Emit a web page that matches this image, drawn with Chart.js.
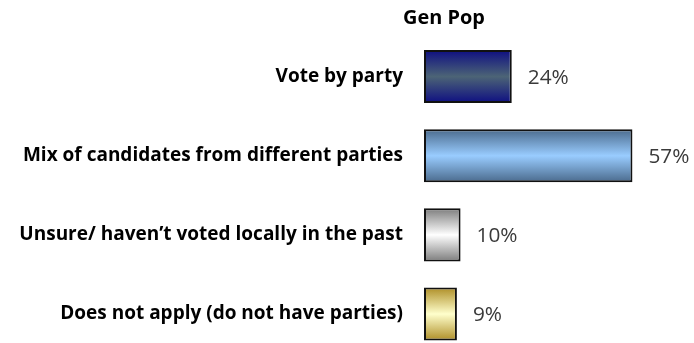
<!DOCTYPE html>
<html><head><meta charset="utf-8">
<script src="https://cdn.jsdelivr.net/npm/chart.js@4/dist/chart.umd.min.js"></script>
<style>html,body{margin:0;padding:0;background:#fff;overflow:hidden}#wrap{width:694px;height:343px;overflow:hidden;position:relative}#c{position:absolute;left:0;top:0}</style>
</head><body><div id="wrap"><canvas id="c" width="694" height="386"></canvas></div>
<script>
const categories = ["Vote by party","Mix of candidates from different parties","Unsure/ haven\u2019t voted locally in the past","Does not apply (do not have parties)"];
const values = [24, 57, 10, 9];
const seriesName = "Gen Pop";
const edgeColors = ["#0e0e82","#4a6a8c","#7c7c7c","#ae8e26"];
const midColors = ["#4c6476","#99ccff","#ffffff","#ffffcc"];

const FONT = "'Open Sans', sans-serif";
const barFrac = 0.67;

const mctx = document.createElement('canvas').getContext('2d');
function fitSize(texts, target, weight) {
  mctx.font = weight + " 100px " + FONT;
  const w = Math.max(...texts.map(s => mctx.measureText(s).width));
  return Math.round(target / w * 1000) / 10;
}
const labelSize = fitSize(categories, 383, 'bold');
const titleSize = fitSize([seriesName], 82, 'bold');
const valueSize = fitSize(['24%'], 41, 'normal');

const gradFill = (ctx) => {
  const chart = ctx.chart;
  const ys = chart.scales.y;
  const i = ctx.dataIndex;
  if (!ys || i === undefined) return midColors[0];
  const c = ys.getPixelForValue(i);
  const band = (ys.bottom - ys.top) / categories.length;
  const h = band * barFrac / 2;
  if (!isFinite(c) || !isFinite(h) || h <= 0) return midColors[i] || midColors[0];
  const g = chart.ctx.createLinearGradient(0, c - h, 0, c + h);
  g.addColorStop(0, edgeColors[i]);
  g.addColorStop(0.5, midColors[i]);
  g.addColorStop(1, edgeColors[i]);
  return g;
};

const extras = {
  id: 'extras',
  afterDatasetsDraw(chart) {
    const {ctx} = chart;
    const meta = chart.getDatasetMeta(0);
    ctx.save();
    ctx.fillStyle = '#3a3a3a';
    ctx.font = valueSize + "px " + FONT;
    ctx.textBaseline = 'middle';
    ctx.textAlign = 'left';
    meta.data.forEach((el, i) => {
      ctx.fillText(values[i] + '%', el.x + 16, el.y + 1);
    });
    ctx.fillStyle = '#000';
    ctx.font = "bold " + titleSize + "px " + FONT;
    ctx.textAlign = 'center';
    ctx.fillText(seriesName, 444, 18);
    ctx.restore();
  }
};

new Chart(document.getElementById('c'), {
  type: 'bar',
  data: {
    labels: categories,
    datasets: [{
      label: seriesName,
      data: values,
      backgroundColor: gradFill,
      borderColor: '#111',
      borderWidth: 2,
      borderSkipped: false,
      barPercentage: barFrac,
      categoryPercentage: 1
    }]
  },
  options: {
    indexAxis: 'y',
    responsive: false,
    animation: false,
    layout: { padding: { top: 37, bottom: 5, right: 14, left: 0 } },
    plugins: { legend: { display: false }, tooltip: { enabled: false } },
    scales: {
      x: { display: false, min: 0, max: 70 },
      y: {
        afterFit(s) { s.width = 424; },
        grid: { display: false, drawTicks: false },
        border: { display: false },
        ticks: { color: '#000', font: { family: FONT, size: labelSize, weight: 'bold' }, padding: 21 }
      }
    }
  },
  plugins: [extras]
});
</script>
</body></html>
